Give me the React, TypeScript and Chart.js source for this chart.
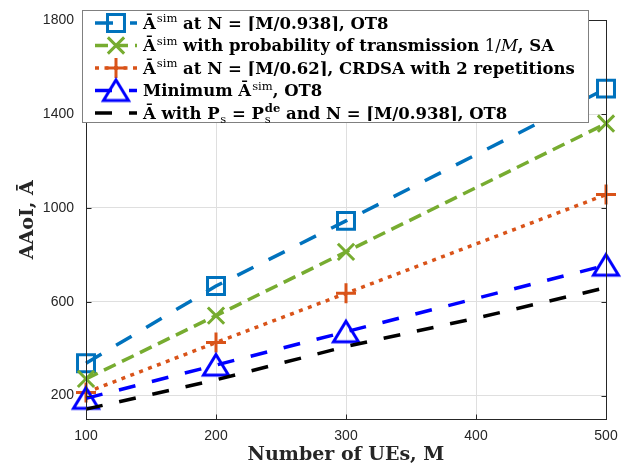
import { useEffect, useRef } from 'react';
import { Chart, registerables } from 'chart.js';

Chart.register(...registerables);

// ---------------- data ----------------
const M_SIM = [100, 200, 300, 500];
const M_BOUND = [100, 200, 300, 400, 500];
const A_SIM_OT8 = [338, 667, 945, 1509];
const A_SIM_SA = [271, 541, 813, 1360];
const A_SIM_CRDSA = [213, 426, 636, 1057];
const A_MIN_OT8 = [188, 330, 472, 756];
const A_BOUND_OT8 = [142, 267, 409, 530, 660];

const X_TICKS = [100, 200, 300, 400, 500];
const Y_TICKS = [200, 600, 1000, 1400, 1800];
const X_MIN = 100;
const X_MAX = 500;
const Y_MIN = 100;
const Y_MAX = 1800;

const X_TITLE = 'Number of UEs, M';
const Y_TITLE = 'AAoI, Ā';

type Seg = { t: string; s?: 'sup' | 'sub' | 'rm' | 'it' | 'supsub'; u?: string };

const LABEL_1: Seg[] = [{ t: 'Ā' }, { t: 'sim', s: 'sup' }, { t: ' at N = ⌈M/0.938⌉, OT8' }];
const LABEL_2: Seg[] = [
  { t: 'Ā' },
  { t: 'sim', s: 'sup' },
  { t: ' with probability of transmission ' },
  { t: '1/', s: 'rm' },
  { t: 'M', s: 'it' },
  { t: ', SA' },
];
const LABEL_3: Seg[] = [{ t: 'Ā' }, { t: 'sim', s: 'sup' }, { t: ' at N = ⌈M/0.62⌉, CRDSA with 2 repetitions' }];
const LABEL_4: Seg[] = [{ t: 'Minimum Ā' }, { t: 'sim', s: 'sup' }, { t: ', OT8' }];
const LABEL_5: Seg[] = [
  { t: 'Ā with P' },
  { t: 's', s: 'sub' },
  { t: ' = P' },
  { t: 'de', s: 'supsub', u: 's' },
  { t: ' and N = ⌈M/0.938⌉, OT8' },
];

// ---------------- styles ----------------
const SERIF = '"DejaVu Serif", "Liberation Serif", serif';
const SANS = '"Liberation Sans", Arial, Helvetica, sans-serif';
const AXIS_COLOR = '#262626';
const LW = 3.5;

type Marker = 'rect' | 'crossRot' | 'cross' | 'triangle' | 'none';

const SERIES = [
  { x: M_SIM, y: A_SIM_OT8, label: LABEL_1, color: '#0072BD', dash: [18, 17], marker: 'rect' as Marker, r: 12 },
  { x: M_SIM, y: A_SIM_SA, label: LABEL_2, color: '#77AC30', dash: [13, 7], marker: 'crossRot' as Marker, r: 11.5 },
  { x: M_SIM, y: A_SIM_CRDSA, label: LABEL_3, color: '#D95319', dash: [4, 5.5], marker: 'cross' as Marker, r: 10 },
  { x: M_SIM, y: A_MIN_OT8, label: LABEL_4, color: '#0000FF', dash: [17, 17], marker: 'triangle' as Marker, r: 12 },
  { x: M_BOUND, y: A_BOUND_OT8, label: LABEL_5, color: '#000000', dash: [17, 17], marker: 'none' as Marker, r: 0 },
];

const PLOT = { left: 86, right: 606, top: 12, bottom: 419 };
const LEGEND = { x0: 82, y0: 10, x1: 589, y1: 123, lineX0: 95, lineX1: 137, markX: 116, textX: 143, row0: 23, rowH: 22.5, textW3: 432 };

function makeTriangle(color: string): HTMLCanvasElement {
  const c = document.createElement('canvas');
  c.width = 34;
  c.height = 34;
  const g = c.getContext('2d')!;
  g.strokeStyle = color;
  g.lineWidth = 3;
  g.lineJoin = 'miter';
  g.beginPath();
  g.moveTo(17, 17 - 10.5);
  g.lineTo(17 + 12.5, 17 + 10);
  g.lineTo(17 - 12.5, 17 + 10);
  g.closePath();
  g.stroke();
  return c;
}

function drawMarker(ctx: CanvasRenderingContext2D, m: Marker, x: number, y: number, r: number, color: string, tri?: HTMLCanvasElement) {
  ctx.save();
  ctx.setLineDash([]);
  ctx.strokeStyle = color;
  ctx.lineWidth = 3;
  ctx.beginPath();
  if (m === 'rect') {
    const s = r * Math.SQRT1_2;
    ctx.rect(x - s, y - s, 2 * s, 2 * s);
    ctx.stroke();
  } else if (m === 'crossRot') {
    const s = r * Math.SQRT1_2;
    ctx.moveTo(x - s, y - s);
    ctx.lineTo(x + s, y + s);
    ctx.moveTo(x + s, y - s);
    ctx.lineTo(x - s, y + s);
    ctx.stroke();
  } else if (m === 'cross') {
    ctx.moveTo(x, y - r);
    ctx.lineTo(x, y + r);
    ctx.moveTo(x - r, y);
    ctx.lineTo(x + r, y);
    ctx.stroke();
  } else if (m === 'triangle' && tri) {
    ctx.drawImage(tri, x - tri.width / 2, y - tri.height / 2);
  }
  ctx.restore();
}

function drawRich(ctx: CanvasRenderingContext2D, segs: Seg[], x: number, y: number, fs: number, draw: boolean): number {
  let cx = x;
  const bold = `bold ${fs}px ${SERIF}`;
  const small = `${(fs * 0.7).toFixed(2)}px ${SERIF}`;
  const smallB = `bold ${(fs * 0.7).toFixed(2)}px ${SERIF}`;
  for (const seg of segs) {
    if (!seg.s) {
      ctx.font = bold;
      if (draw) ctx.fillText(seg.t, cx, y);
      cx += ctx.measureText(seg.t).width;
    } else if (seg.s === 'sup') {
      ctx.font = small;
      cx += 1;
      if (draw) ctx.fillText(seg.t, cx, y - fs * 0.42);
      cx += ctx.measureText(seg.t).width;
    } else if (seg.s === 'sub') {
      ctx.font = small;
      cx += 0.5;
      if (draw) ctx.fillText(seg.t, cx, y + fs * 0.22);
      cx += ctx.measureText(seg.t).width;
    } else if (seg.s === 'supsub') {
      ctx.font = smallB;
      cx += 1;
      const w1 = ctx.measureText(seg.t).width;
      if (draw) ctx.fillText(seg.t, cx, y - fs * 0.42);
      ctx.font = small;
      const w2 = ctx.measureText(seg.u || '').width;
      if (draw) ctx.fillText(seg.u || '', cx, y + fs * 0.26);
      cx += Math.max(w1, w2);
    } else if (seg.s === 'rm') {
      ctx.font = `${fs}px ${SERIF}`;
      if (draw) ctx.fillText(seg.t, cx, y);
      cx += ctx.measureText(seg.t).width;
    } else if (seg.s === 'it') {
      ctx.font = `italic ${fs}px ${SERIF}`;
      if (draw) ctx.fillText(seg.t, cx, y);
      cx += ctx.measureText(seg.t).width;
    }
  }
  return cx - x;
}

export default function App() {
  const ref = useRef<HTMLCanvasElement | null>(null);

  useEffect(() => {
    const canvas = ref.current;
    if (!canvas) return;
    const tri = makeTriangle('#0000FF');

    const framePlugin = {
      id: 'framePlugin',
      afterDraw(chart: any) {
        const { ctx, chartArea: a, scales } = chart;
        const xs = scales.x;
        const ys = scales.y;
        ctx.save();
        // axes box
        ctx.strokeStyle = AXIS_COLOR;
        ctx.lineWidth = 1;
        const L = Math.round(a.left) + 0.5;
        const R = Math.round(a.right) + 0.5;
        const T = Math.round(a.top) + 0.5;
        const B = Math.round(a.bottom) + 0.5;
        ctx.strokeRect(L, T, R - L, B - T);
        // inward tick marks
        const tl = 5;
        ctx.beginPath();
        for (const v of X_TICKS) {
          const px = Math.round(xs.getPixelForValue(v)) + 0.5;
          ctx.moveTo(px, B);
          ctx.lineTo(px, B - tl);
          ctx.moveTo(px, T);
          ctx.lineTo(px, T + tl);
        }
        for (const v of Y_TICKS) {
          const py = Math.round(ys.getPixelForValue(v)) + 0.5;
          ctx.moveTo(L, py);
          ctx.lineTo(L + tl, py);
          ctx.moveTo(R, py);
          ctx.lineTo(R - tl, py);
        }
        ctx.stroke();

        // axis titles
        ctx.fillStyle = AXIS_COLOR;
        ctx.font = `bold 19px ${SERIF}`;
        ctx.textAlign = 'center';
        ctx.textBaseline = 'alphabetic';
        ctx.fillText(X_TITLE, (a.left + a.right) / 2, 460);
        ctx.save();
        ctx.translate(33, (a.top + a.bottom) / 2);
        ctx.rotate(-Math.PI / 2);
        ctx.fillText(Y_TITLE, 0, 0);
        ctx.restore();

        // legend
        ctx.fillStyle = '#ffffff';
        ctx.fillRect(LEGEND.x0, LEGEND.y0, LEGEND.x1 - LEGEND.x0, LEGEND.y1 - LEGEND.y0);
        ctx.strokeStyle = '#808080';
        ctx.lineWidth = 1;
        ctx.strokeRect(LEGEND.x0 + 0.5, LEGEND.y0 + 0.5, LEGEND.x1 - LEGEND.x0 - 1, LEGEND.y1 - LEGEND.y0 - 1);

        ctx.textAlign = 'left';
        const w3 = drawRich(ctx, LABEL_3, 0, 0, 16, false);
        const fs = (16 * LEGEND.textW3) / w3;
        SERIES.forEach((s, i) => {
          const cy = LEGEND.row0 + i * LEGEND.rowH;
          ctx.save();
          ctx.strokeStyle = s.color;
          ctx.lineWidth = LW;
          ctx.setLineDash(s.dash);
          ctx.beginPath();
          ctx.moveTo(LEGEND.lineX0, cy);
          ctx.lineTo(LEGEND.lineX1, cy);
          ctx.stroke();
          ctx.restore();
          drawMarker(ctx, s.marker, LEGEND.markX, cy, s.r, s.color, tri);
          ctx.fillStyle = '#000000';
          drawRich(ctx, s.label, LEGEND.textX, cy + fs * 0.36, fs, true);
        });
        ctx.restore();
      },
    };

    const chart = new Chart(canvas, {
      type: 'line',
      data: {
        datasets: SERIES.map((s, i) => ({
          label: `series ${i + 1}`,
          data: s.x.map((xv, j) => ({ x: xv, y: s.y[j] })),
          borderColor: s.color,
          borderWidth: LW,
          borderDash: s.dash,
          borderCapStyle: 'butt',
          borderJoinStyle: 'miter',
          fill: false,
          tension: 0,
          pointStyle: s.marker === 'triangle' ? tri : s.marker === 'none' ? false : s.marker,
          pointRadius: s.r,
          pointHoverRadius: s.r,
          pointBorderWidth: 3,
          pointHoverBorderWidth: 3,
          pointBorderColor: s.color,
          pointBackgroundColor: 'rgba(0,0,0,0)',
          clip: false,
          order: SERIES.length - 1 - i,
        })) as any,
      },
      options: {
        animation: false,
        responsive: false,
        maintainAspectRatio: false,
        events: [],
        layout: { padding: { left: 0, right: 630 - PLOT.right, top: PLOT.top, bottom: 0 } },
        plugins: {
          legend: { display: false },
          tooltip: { enabled: false },
          title: { display: false },
        },
        scales: {
          x: {
            type: 'linear',
            min: X_MIN,
            max: X_MAX,
            afterBuildTicks: (s: any) => {
              s.ticks = X_TICKS.map((v) => ({ value: v }));
            },
            afterFit: (s: any) => {
              s.height = 468 - PLOT.bottom;
            },
            grid: { color: '#dfdfdf', lineWidth: 1, drawTicks: false },
            border: { display: false },
            ticks: {
              padding: 9,
              color: AXIS_COLOR,
              maxRotation: 0,
              autoSkip: false,
              font: { family: SANS, size: 14 },
              callback: (v: any) => String(v),
            },
          },
          y: {
            type: 'linear',
            min: Y_MIN,
            max: Y_MAX,
            afterBuildTicks: (s: any) => {
              s.ticks = Y_TICKS.map((v) => ({ value: v }));
            },
            afterFit: (s: any) => {
              s.width = PLOT.left;
            },
            grid: { color: '#dfdfdf', lineWidth: 1, drawTicks: false },
            border: { display: false },
            ticks: {
              padding: 12,
              color: AXIS_COLOR,
              autoSkip: false,
              font: { family: SANS, size: 14 },
              callback: (v: any) => String(v),
            },
          },
        },
      } as any,
      plugins: [framePlugin],
    });

    return () => chart.destroy();
  }, []);

  return (
    <div style={{ position: 'absolute', left: 0, top: 0, width: 630, height: 468, background: '#ffffff' }}>
      <canvas ref={ref} width={630} height={468} style={{ display: 'block', width: 630, height: 468 }} />
    </div>
  );
}
